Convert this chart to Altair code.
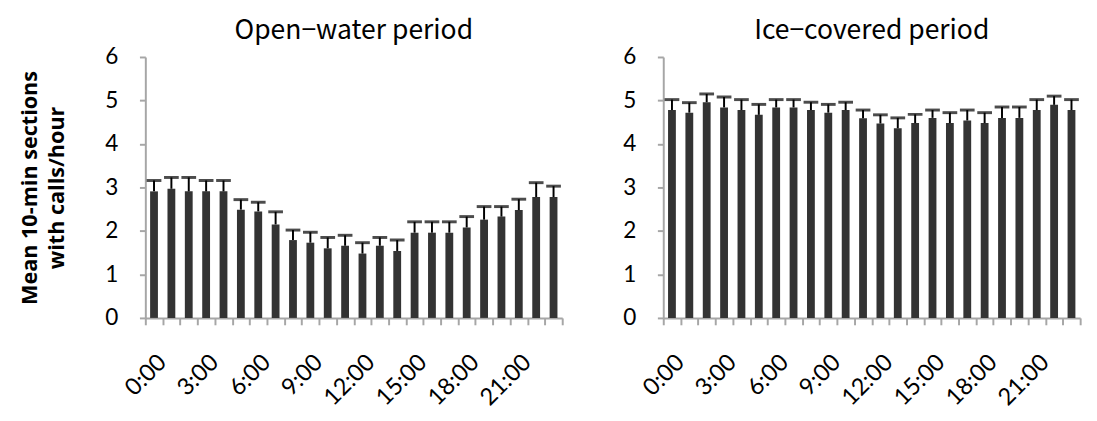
import altair as alt
import pandas as pd

hours = list(range(24))
open_mean = [2.91, 2.97, 2.91, 2.91, 2.91, 2.49, 2.45, 2.15, 1.79, 1.73, 1.60, 1.66,
             1.48, 1.66, 1.54, 1.96, 1.96, 1.96, 2.08, 2.26, 2.33, 2.48, 2.78, 2.78]
open_se = [0.25, 0.26, 0.32, 0.25, 0.25, 0.23, 0.21, 0.29, 0.23, 0.24, 0.25, 0.24,
           0.25, 0.19, 0.25, 0.25, 0.25, 0.25, 0.25, 0.30, 0.23, 0.25, 0.33, 0.25]
ice_mean = [4.78, 4.72, 4.96, 4.84, 4.78, 4.67, 4.84, 4.84, 4.78, 4.72, 4.78, 4.59,
            4.47, 4.36, 4.48, 4.60, 4.48, 4.54, 4.48, 4.60, 4.60, 4.78, 4.90, 4.78]
ice_se = [0.24, 0.23, 0.19, 0.24, 0.24, 0.24, 0.18, 0.18, 0.18, 0.19, 0.18, 0.19,
          0.20, 0.24, 0.20, 0.18, 0.24, 0.24, 0.24, 0.25, 0.25, 0.24, 0.20, 0.24]
y_ticks = [0, 1, 2, 3, 4, 5, 6]
titles = ["Open\u2212water period", "Ice\u2212covered period"]
y_title = ["Mean 10-min sections", "with calls/hour"]

AX = "#a6a6a6"
BAR = "#333333"
W, H = 425, 266


def panel(mean, se, title, with_title):
    df = pd.DataFrame({"hour": hours, "mean": mean,
                       "upper": [round(m + s, 2) for m, s in zip(mean, se)]})
    x = alt.X("hour:O", title=None,
              scale=alt.Scale(paddingInner=0, paddingOuter=0),
              axis=alt.Axis(labelAngle=-45, tickBand="extent", tickSize=7,
                            labelExpr="datum.value % 3 == 0 ? datum.value + ':00' : ''",
                            labelFont="Lato", labelFontSize=24, labelColor="black",
                            labelPadding=26, domainColor=AX, tickColor=AX,
                            tickWidth=2, domainWidth=2))
    yaxis = alt.Axis(values=y_ticks, grid=False, tickSize=6, tickColor=AX,
                     domainColor=AX, tickWidth=2, domainWidth=2,
                     labelFont="Lato", labelFontSize=23, labelColor="black",
                     labelPadding=22,
                     title=y_title if with_title else None,
                     titleFont="Open Sans", titleFontSize=22, titleFontWeight="bold",
                     titleColor="black", titlePadding=37, titleLineHeight=28)
    y = alt.Y("mean:Q", scale=alt.Scale(domain=[0, 6], nice=False), axis=yaxis)
    base = alt.Chart(df)
    bars = base.mark_bar(color=BAR, width={"band": 0.45}).encode(x=x, y=y)
    err = base.mark_rule(color="black", strokeWidth=2).encode(
        x=x, y=alt.Y("mean:Q"), y2="upper:Q")
    cap = base.mark_tick(color="black", thickness=3, size=15).encode(
        x=x, y=alt.Y("upper:Q"))
    return alt.layer(bars, err, cap).properties(
        width=W, height=H,
        title=alt.TitleParams(title, font="Noto Sans CJK JP", fontSize=27,
                              fontWeight="normal", color="black", offset=1))


left = panel(open_mean, open_se, titles[0], True)
right = panel(ice_mean, ice_se, titles[1], False)

chart = alt.hconcat(left, right, spacing=52).properties(
    padding={"left": 10, "top": 6, "right": 0, "bottom": 0}
).configure_view(stroke=None)

chart.save("out.html", embed_options={"renderer": "svg", "actions": False})
